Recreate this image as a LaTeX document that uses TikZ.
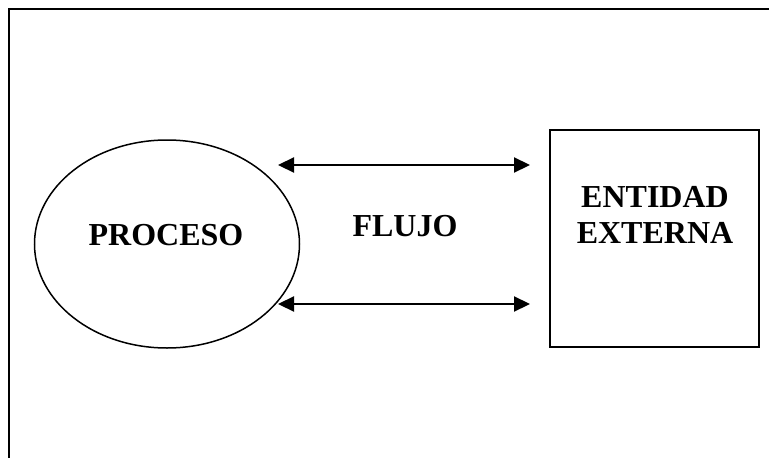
\documentclass[tikz,border=0pt]{standalone}
\usepackage{fontspec}
\setmainfont{Liberation Serif}
\usetikzlibrary{shapes.geometric,arrows.meta}
\begin{document}
\begin{tikzpicture}[x=1pt,y=-1pt,
  lbl/.style={font=\fontsize{32}{36}\selectfont\bfseries, align=center, inner sep=0pt},
  flow/.style={line width=2.2pt, {Triangle[length=16pt,width=15pt]}-{Triangle[length=16pt,width=15pt]}},
  frameline/.style={line width=2.4pt}]
  \useasboundingbox (0,0) rectangle (769,458);
  % outer frame: only the top and left sides fall inside the page
  \coordinate (fbl) at (9,458);
  \coordinate (ftl) at (9,9);
  \coordinate (ftr) at (769,9);
  \draw[frameline] (fbl) -- (ftl) -- (ftr);
  % process bubble
  \node[draw, line width=1.5pt, ellipse, minimum width=265pt, minimum height=208pt] (proc) at (167,244) {};
  \node[lbl] (proct) at (166,235) {PROCESO};
  % external entity
  \node[draw, line width=2pt, rectangle, minimum width=209pt, minimum height=217pt] (ent) at (654.5,238.5) {};
  \node[lbl] (entt) at (655,215) {ENTIDAD\\EXTERNA};
  % flow label
  \node[lbl] (flujo) at (405,226) {FLUJO};
  % flow arrows
  \coordinate (a1) at (278,165);
  \coordinate (b1) at (530,165);
  \coordinate (a2) at (278,304);
  \coordinate (b2) at (530,304);
  \draw[flow] (a1) -- (b1);
  \draw[flow] (a2) -- (b2);
\end{tikzpicture}
\end{document}
